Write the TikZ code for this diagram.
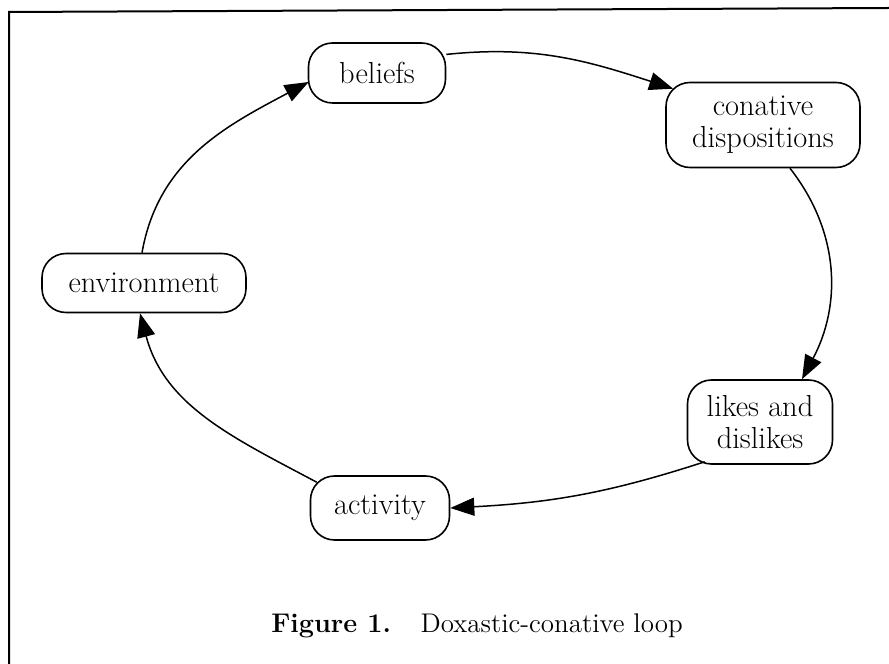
\documentclass[tikz,border=0pt]{standalone}
\usetikzlibrary{arrows.meta,calc}

\tikzset{
  state/.style={draw, line width=0.8pt, rounded corners=12pt, align=center,
    inner sep=2pt, font=\fontsize{15.2}{16}\selectfont},
  flow/.style={line width=0.75pt, -{Triangle[length=12pt,width=9pt]}},
  frame/.style={line width=1pt},
}

\begin{document}
\begin{tikzpicture}[x=0.5pt, y=0.5pt]
  \useasboundingbox (0,0) rectangle (889,664);

  % outer frame (only left and top edges fall inside the page)
  \draw[frame] (9,0) -- (9,652) -- (889,656);

  % states of the loop
  \node[state, minimum width=68.5pt, minimum height=30pt]   (beliefs)  at (377,591) {beliefs};
  \node[state, minimum width=97pt,   minimum height=42.5pt] (conative) at (763,539) {conative\\dispositions};
  \node[state, minimum width=72.5pt, minimum height=42pt]   (likes)    at (760,242) {likes and\\dislikes};
  \node[state, minimum width=69.5pt, minimum height=32pt]   (activity) at (380,156) {activity};
  \node[state, minimum width=102pt,  minimum height=29.5pt] (environ)  at (144,381) {environment};

  % connectors
  \draw[flow] (beliefs.15) to[out=6, in=162] ($(conative.north west)+(8,-7)$);
  \draw[flow] ($(conative.south)+(27,0)$) to[out=-52, in=62] ($(likes.north)+(42,0)$);
  \draw[flow] ($(likes.south west)+(18,3)$) to[out=198, in=3] (activity.east);
  \draw[flow] ($(activity.north west)+(7,-7)$) to[out=152, in=-75] ($(environ.south)+(-4,0)$);
  \draw[flow] ($(environ.north)+(-2,0)$) to[out=80, in=-152] ($(beliefs.west)+(1,-9)$);

  % caption
  \node[anchor=base, font=\fontsize{13.5}{16}\selectfont] (caption) at (477,31)
    {\textbf{Figure 1.}\hspace{1.1em}Doxastic-conative loop};
\end{tikzpicture}
\end{document}
